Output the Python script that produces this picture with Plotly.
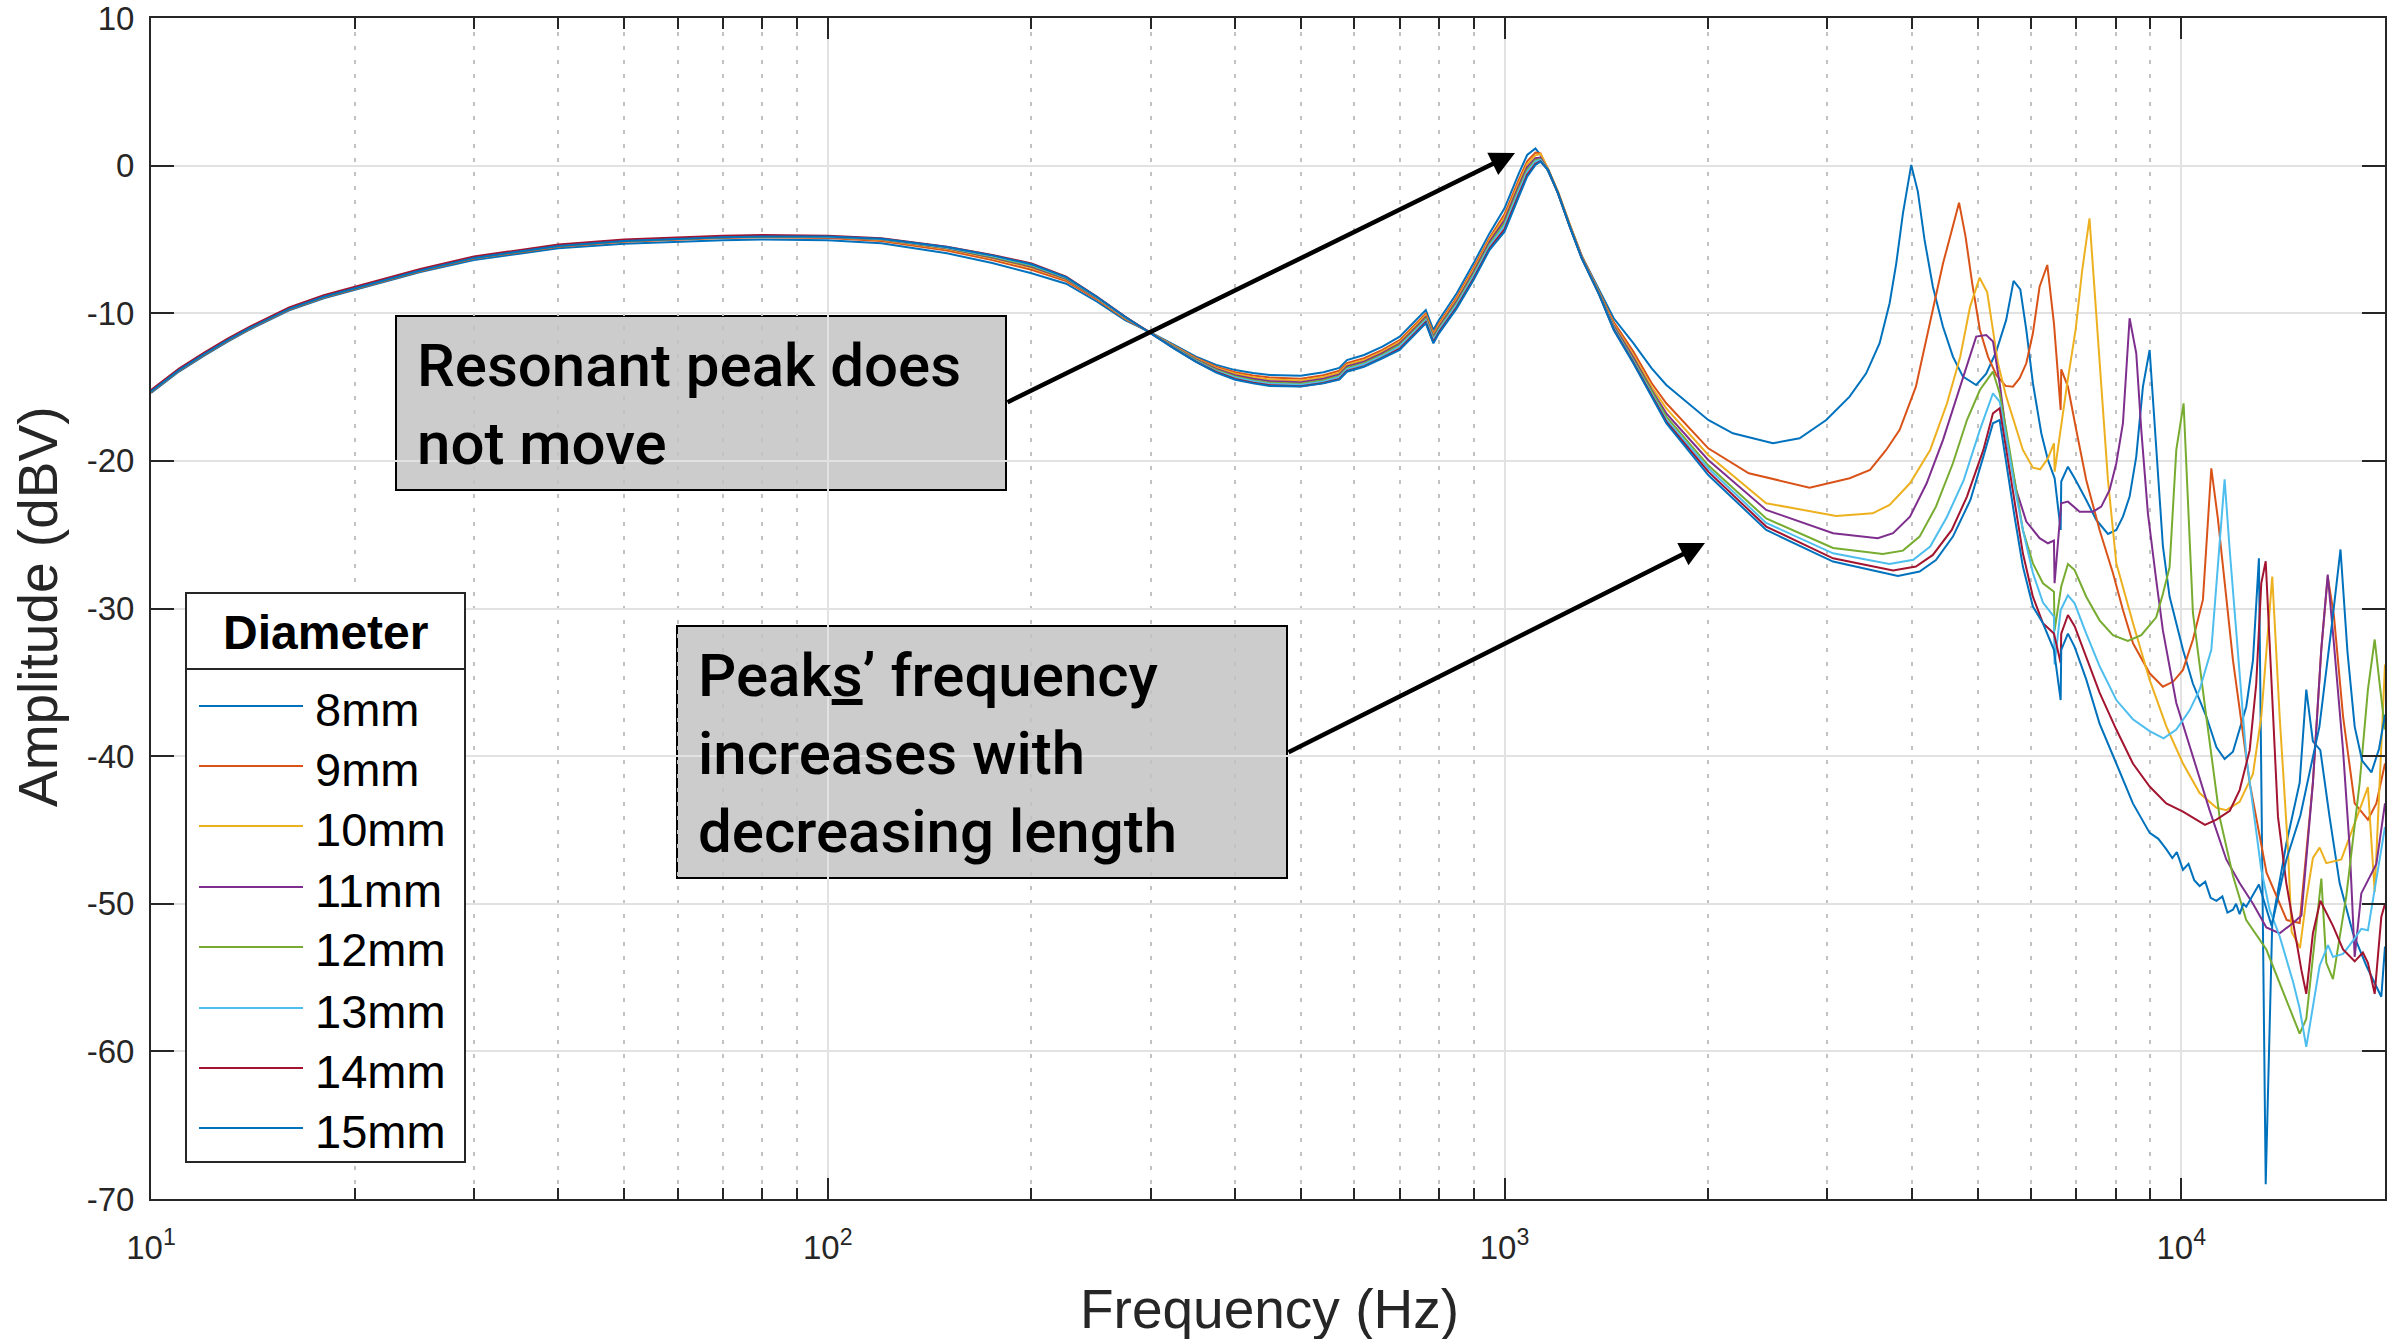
import math
import plotly.graph_objects as go

# ---------------------------------------------------------------------------
# Measured amplitude response of the tube for eight diameters.
# Below ~1.7 kHz all tubes share the same frequency samples.
# ---------------------------------------------------------------------------
freq_low = [10, 11, 12, 13, 14, 16, 18, 20, 25, 30, 40, 50, 60, 70, 80, 100, 120, 150, 175, 200,
            225, 250, 275, 300, 325, 350, 375, 400, 425, 450, 500, 540, 570, 585, 620, 660, 700,
            740, 765, 785, 800, 850, 900, 950, 1000, 1050, 1080, 1111, 1130, 1160, 1200, 1250,
            1300, 1380, 1450, 1550, 1650]

amp_low_8mm = [-15.4, -13.95, -12.85, -11.9, -11.1, -9.8, -8.98, -8.4, -7.2, -6.4,
               -5.6, -5.3, -5.15, -5.05, -5.0, -5.05, -5.26, -5.94, -6.6, -7.29,
               -8.0, -9.22, -10.46, -11.3, -12.15, -12.94, -13.5, -13.85, -14.05, -14.18,
               -14.23, -14.0, -13.7, -13.17, -12.83, -12.26, -11.59, -10.46, -9.78, -11.13,
               -10.46, -8.65, -6.62, -4.59, -2.89, -0.52, 0.72, 1.17, 0.72, -0.4,
               -1.85, -4.1, -6.1, -8.42, -10.34, -12.03, -13.73]
amp_low_9mm = [-15.35, -13.9, -12.8, -11.85, -11.05, -9.75, -8.93, -8.35, -7.15, -6.3,
               -5.5, -5.15, -5.0, -4.9, -4.85, -4.9, -5.1, -5.75, -6.4, -7.05,
               -7.82, -9.08, -10.38, -11.32, -12.2, -13.02, -13.62, -14.0, -14.22, -14.36,
               -14.43, -14.2, -13.9, -13.38, -13.05, -12.48, -11.82, -10.7, -10.02, -11.36,
               -10.7, -8.92, -6.92, -4.9, -3.3, -0.95, 0.3, 0.88, 0.82, -0.25,
               -1.8, -4.05, -6.1, -8.55, -10.6, -12.6, -14.74]
amp_low_10mm = [-15.3, -13.85, -12.75, -11.8, -11.0, -9.7, -8.88, -8.3, -7.1, -6.25,
                -5.45, -5.1, -4.95, -4.85, -4.8, -4.85, -5.02, -5.65, -6.28, -6.92,
                -7.72, -9.0, -10.33, -11.33, -12.24, -13.08, -13.7, -14.1, -14.33, -14.48,
                -14.55, -14.32, -14.02, -13.5, -13.17, -12.6, -11.94, -10.82, -10.14, -11.48,
                -10.82, -9.05, -7.06, -5.04, -3.5, -1.15, 0.1, 0.7, 0.79, -0.2,
                -1.8, -4.05, -6.12, -8.6, -10.75, -12.85, -15.0]
amp_low_11mm = [-15.3, -13.85, -12.75, -11.8, -11.0, -9.7, -8.88, -8.3, -7.1, -6.25,
                -5.45, -5.1, -4.95, -4.85, -4.8, -4.85, -4.99, -5.6, -6.22, -6.85,
                -7.67, -8.97, -10.3, -11.35, -12.28, -13.13, -13.77, -14.2, -14.44, -14.6,
                -14.67, -14.44, -14.14, -13.6, -13.28, -12.7, -12.05, -10.94, -10.26, -11.6,
                -10.94, -9.18, -7.2, -5.18, -3.7, -1.35, -0.1, 0.5, 0.55, -0.3,
                -1.87, -4.13, -6.16, -8.65, -10.85, -13.0, -15.2]
amp_low_12mm = [-15.3, -13.85, -12.75, -11.8, -11.0, -9.7, -8.88, -8.3, -7.1, -6.25,
                -5.45, -5.1, -4.95, -4.85, -4.8, -4.82, -4.97, -5.57, -6.17, -6.78,
                -7.62, -8.94, -10.28, -11.36, -12.31, -13.18, -13.84, -14.28, -14.53, -14.7,
                -14.77, -14.54, -14.24, -13.7, -13.38, -12.8, -12.15, -11.04, -10.36, -11.7,
                -11.04, -9.3, -7.34, -5.32, -3.9, -1.55, -0.28, 0.38, 0.43, -0.3,
                -1.87, -4.15, -6.2, -8.68, -10.95, -13.15, -15.35]
amp_low_13mm = [-15.25, -13.8, -12.7, -11.75, -10.95, -9.65, -8.83, -8.25, -7.05, -6.2,
                -5.4, -5.05, -4.9, -4.8, -4.75, -4.8, -4.95, -5.55, -6.12, -6.72,
                -7.58, -8.92, -10.26, -11.37, -12.34, -13.22, -13.9, -14.35, -14.6, -14.78,
                -14.85, -14.62, -14.32, -13.78, -13.46, -12.88, -12.24, -11.13, -10.46, -11.8,
                -11.13, -9.4, -7.46, -5.44, -4.05, -1.7, -0.42, 0.28, 0.38, -0.3,
                -1.9, -4.17, -6.22, -8.7, -11.0, -13.25, -15.48]
amp_low_14mm = [-15.2, -13.75, -12.65, -11.7, -10.9, -9.6, -8.78, -8.2, -7.0, -6.15,
                -5.35, -5.0, -4.85, -4.75, -4.7, -4.75, -4.92, -5.49, -6.05, -6.62,
                -7.52, -8.88, -10.23, -11.38, -12.38, -13.27, -13.98, -14.45, -14.7, -14.88,
                -14.95, -14.72, -14.45, -13.9, -13.58, -13.0, -12.4, -11.28, -10.6, -11.96,
                -11.28, -9.58, -7.65, -5.62, -4.3, -1.95, -0.62, 0.12, 0.3, -0.3,
                -1.9, -4.2, -6.25, -8.74, -11.08, -13.33, -15.58]
amp_low_15mm = [-15.3, -13.85, -12.75, -11.8, -11.0, -9.7, -8.88, -8.3, -7.1, -6.25,
                -5.45, -5.1, -4.95, -4.85, -4.8, -4.8, -4.95, -5.52, -6.08, -6.68,
                -7.55, -8.9, -10.24, -11.38, -12.4, -13.3, -14.02, -14.5, -14.75, -14.92,
                -14.97, -14.75, -14.5, -13.96, -13.62, -13.05, -12.49, -11.36, -10.68, -12.04,
                -11.36, -9.67, -7.75, -5.72, -4.47, -2.1, -0.75, 0.05, 0.27, -0.3,
                -1.9, -4.2, -6.28, -8.76, -11.13, -13.39, -15.65]

# Above ~1.7 kHz each tube has its own resonances.
freq_high_8mm = [1734, 2000, 2175, 2492, 2729, 2988, 3235, 3423, 3583, 3707, 3792, 3879, 3990, 4081,
                 4175, 4295, 4444, 4598, 4757, 4977, 5150, 5328, 5512, 5652, 5783, 5902, 6036, 6211,
                 6353, 6500, 6634, 6647, 6800, 6957, 7237, 7488, 7792, 8017, 8200, 8388, 8580, 8777,
                 8979, 9183, 9395, 9610, 10058, 10405, 10887, 11272, 11589, 11922, 12474, 12763,
                 13023, 13328, 13628, 14300, 14960, 15300, 15650, 16050, 16560, 17140, 17935,
                 18770, 19750, 20000]
amp_high_8mm = [-14.86, -17.23, -18.13, -18.81, -18.47, -17.23, -15.65, -14.07, -12.03, -9.32,
                -6.62, -3.23, 0.05, -1.76, -5.03, -8.2, -10.9, -12.94, -14.29, -14.86,
                -14.1, -12.6, -10.45, -7.81, -8.38, -11.13, -14.74, -18.13, -19.94, -21.18,
                -24.68, -21.4, -20.39, -21.18, -22.65, -24.0, -24.95, -24.68, -23.78, -22.42,
                -19.71, -14.97, -12.49, -19.03, -25.8, -29.19, -32.8, -35.1, -37.3, -39.4,
                -40.2, -39.7, -36.65, -33.5, -26.6, -69.0, -51.3, -45.9, -41.8, -35.5,
                -39.0, -39.6, -44.1, -48.6, -52.0, -54.2, -56.3, -52.9]

freq_high_9mm = [1734, 2000, 2296, 2823, 3236, 3468, 3664, 3836, 4054, 4256, 4446, 4582, 4695, 4800,
                 4910, 5040, 5180, 5329, 5501, 5640, 5770, 5902, 6036, 6175, 6339, 6484, 6634, 6647,
                 6800, 6995, 7237, 7573, 7925, 8200, 8486, 8980, 9395, 9730, 10058, 10405, 10765,
                 11076, 11325, 11922, 12620, 13366, 14310, 14960, 15650, 16100, 16459, 16810,
                 17340, 18040, 18870, 19420, 20000]
amp_high_9mm = [-16.1, -19.15, -20.84, -21.81, -21.18, -20.61, -19.26, -17.9, -14.97, -10.68,
                -6.62, -4.36, -2.51, -4.81, -7.97, -11.13, -12.94, -14.18, -14.92, -14.97,
                -14.4, -13.39, -11.36, -8.2, -6.73, -10.68, -16.55, -13.8, -14.97, -17.9,
                -21.29, -24.68, -27.6, -30.1, -32.36, -34.39, -35.3, -34.95, -34.16, -32.1,
                -29.4, -20.5, -23.9, -33.5, -41.8, -47.9, -51.1, -51.3, -41.8, -32.8,
                -27.84, -30.5, -37.3, -43.2, -44.3, -43.2, -40.5]

freq_high_10mm = [1734, 2000, 2436, 3091, 3500, 3707, 3973, 4256, 4507, 4714, 4875, 5035, 5167, 5262,
                  5360, 5513, 5671, 5834, 6036, 6188, 6353, 6484, 6500, 6784, 6980, 7139, 7318, 7470,
                  7644, 7792, 8017, 8486, 8980, 9507, 10058, 10644, 11272, 11655, 12196, 12763,
                  13130, 13428, 13628, 13975, 14377, 14555, 14975, 15300, 15650, 16013, 16381,
                  17240, 17940, 18870, 19310, 20000]
amp_high_10mm = [-16.44, -19.6, -22.87, -23.73, -23.55, -22.98, -21.52, -19.26, -16.1, -12.94,
                 -9.55, -7.59, -8.58, -11.13, -13.39, -15.65, -17.45, -19.26, -20.46, -20.57,
                 -19.82, -18.81, -20.73, -14.74, -11.13, -7.07, -3.57, -9.32, -15.65, -21.29,
                 -26.94, -31.0, -34.84, -38.0, -40.5, -42.5, -43.5, -43.66, -43.1, -41.2,
                 -37.3, -31.7, -27.84, -37.3, -46.3, -51.9, -53.0, -49.7, -46.9, -46.2,
                 -47.25, -47.0, -44.9, -42.1, -49.2, -33.8]

freq_high_11mm = [1734, 2000, 2436, 3058, 3561, 3751, 3973, 4205, 4446, 4660, 4823, 4977, 5150, 5270,
                  5390, 5544, 5704, 5902, 6176, 6353, 6484, 6498, 6647, 6800, 7075, 7404, 7617, 7836,
                  8017, 8200, 8388, 8580, 8727, 8927, 9183, 9395, 9832, 10405, 11010, 11655, 12196,
                  12763, 13358, 13975, 14630, 15050, 15650, 16100, 16459, 16810, 17340, 17740,
                  18040, 18450, 18870, 19420, 20000]
amp_high_11mm = [-16.78, -19.94, -23.32, -24.9, -25.24, -24.9, -23.78, -21.52, -18.58, -15.65,
                 -13.39, -11.58, -11.47, -11.92, -14.74, -19.03, -21.97, -24.11, -25.24, -25.58,
                 -25.4, -28.29, -22.87, -22.76, -23.44, -23.44, -23.1, -21.97, -20.16, -17.45,
                 -10.34, -12.71, -17.9, -23.55, -28.07, -31.5, -36.4, -40.0, -43.66, -47.0,
                 -48.6, -50.0, -51.6, -52.0, -51.3, -50.8, -41.8, -32.8, -27.7, -32.4,
                 -39.6, -46.3, -53.6, -49.3, -48.4, -47.3, -43.2]

freq_high_12mm = [1734, 2000, 2436, 3058, 3622, 3879, 4105, 4340, 4598, 4823, 5040, 5269, 5390, 5513,
                  5671, 5834, 6036, 6246, 6484, 6498, 6647, 6800, 6957, 7237, 7573, 7925, 8337, 8727,
                  9183, 9395, 9610, 9832, 10079, 10228, 10405, 10887, 11390, 11922, 12474, 13358,
                  14140, 14630, 14960, 15300, 16105, 16380, 16754, 17530, 18350, 18870, 19310,
                  19640, 20000]
amp_high_12mm = [-17.0, -20.3, -23.9, -25.9, -26.3, -26.08, -25.13, -23.1, -20.16, -17.23,
                 -15.2, -13.95, -15.42, -17.9, -21.29, -24.68, -26.94, -28.29, -28.86, -31.5,
                 -28.5, -26.99, -27.4, -29.2, -30.8, -31.8, -32.2, -31.8, -30.6, -29.0,
                 -27.2, -19.26, -16.1, -22.42, -30.3, -37.3, -44.1, -48.1, -51.1, -53.1,
                 -56.0, -57.6, -58.8, -57.8, -48.3, -54.0, -55.1, -49.5, -41.8, -35.5,
                 -32.1, -35.1, -38.2]

freq_high_13mm = [1734, 2000, 2436, 3058, 3705, 4018, 4256, 4507, 4770, 5040, 5269, 5390, 5513, 5671,
                  5834, 6036, 6246, 6484, 6498, 6634, 6800, 6957, 7237, 7573, 8017, 8482, 8980, 9417,
                  9832, 10287, 10644, 11076, 11390, 11589, 11790, 12474, 13130, 13506, 13975, 14630,
                  14960, 15300, 16013, 16474, 16754, 17340, 17940, 18450, 18870, 20000]
amp_high_13mm = [-17.2, -20.5, -24.2, -26.26, -26.98, -26.7, -25.8, -23.78, -21.3, -17.9,
                 -15.42, -15.99, -18.36, -21.74, -24.68, -27.6, -29.6, -30.55, -33.8, -30.1,
                 -29.1, -29.65, -31.7, -33.9, -36.2, -37.5, -38.3, -38.8, -38.2, -36.9,
                 -35.5, -32.8, -26.0, -21.25, -26.0, -40.0, -47.7, -50.4, -52.2, -55.3,
                 -57.1, -59.7, -54.2, -52.8, -53.6, -53.4, -52.5, -51.7, -51.8, -44.8]

freq_high_14mm = [1734, 2000, 2436, 3058, 3751, 4054, 4295, 4580, 4823, 5100, 5269, 5390, 5513, 5671,
                  5834, 6036, 6246, 6484, 6634, 6647, 6800, 6957, 7237, 7573, 8017, 8482, 8980, 9502,
                  10058, 10644, 10840, 11272, 11795, 12196, 12620, 12906, 13128, 13328, 13585, 13895,
                  14295, 14705, 15050, 15300, 15650, 16050, 16754, 17340, 18040, 18550, 18870,
                  19310, 19750, 20000]
amp_high_14mm = [-17.34, -20.73, -24.45, -26.6, -27.43, -27.16, -26.37, -24.68, -22.42, -19.26,
                 -16.78, -16.44, -19.26, -22.87, -26.26, -29.2, -31.0, -31.7, -33.7, -31.7,
                 -30.44, -31.2, -33.3, -35.7, -38.2, -40.5, -42.06, -43.2, -43.76, -44.4,
                 -44.66, -44.3, -43.7, -42.3, -39.6, -35.1, -28.3, -26.8, -35.1, -44.1,
                 -48.6, -52.0, -54.5, -56.1, -52.0, -49.8, -51.5, -53.1, -53.9, -53.3,
                 -54.0, -56.1, -50.9, -50.0]

freq_high_15mm = [1734, 2000, 2436, 3058, 3813, 4105, 4340, 4598, 4880, 5100, 5269, 5390, 5513, 5671,
                  5834, 6036, 6246, 6484, 6634, 6647, 6800, 6957, 7237, 7573, 8017, 8482, 8980, 9250,
                  9502, 9700, 9850, 10058, 10250, 10450, 10644, 10850, 11050, 11272, 11500, 11700,
                  11922, 12050, 12196, 12350, 12474, 13023, 13600, 14300, 15000, 16000, 16700,
                  17190, 17600, 18040, 18500, 19100, 19600, 20000]
amp_high_15mm = [-17.45, -20.96, -24.68, -26.82, -27.8, -27.5, -26.72, -25.13, -22.65, -19.71,
                 -17.45, -17.23, -20.16, -23.78, -27.16, -29.87, -31.0, -32.8, -36.2, -32.8,
                 -31.7, -32.6, -34.8, -37.8, -40.5, -43.2, -45.2, -45.6, -46.3, -46.9,
                 -46.5, -47.7, -47.3, -48.4, -48.8, -48.5, -49.6, -49.8, -49.5, -50.6,
                 -50.4, -50.0, -50.7, -50.0, -50.2, -48.7, -51.5, -47.0, -44.0, -38.0,
                 -31.0, -26.0, -32.9, -38.0, -40.3, -41.1, -39.5, -37.2]

diameters = ["8mm", "9mm", "10mm", "11mm", "12mm", "13mm", "14mm", "15mm"]
line_colors = ["#0072BD", "#D95319", "#EDB120", "#7E2F8E", "#77AC30", "#4DBEEE", "#A2142F", "#0072BD"]

x_tick_vals = [10, 100, 1000, 10000]
x_tick_text = ["10<sup>1</sup>", "10<sup>2</sup>", "10<sup>3</sup>", "10<sup>4</sup>"]
y_tick_vals = [-70, -60, -50, -40, -30, -20, -10, 0, 10]

series = [
    (freq_low + freq_high_8mm, amp_low_8mm + amp_high_8mm),
    (freq_low + freq_high_9mm, amp_low_9mm + amp_high_9mm),
    (freq_low + freq_high_10mm, amp_low_10mm + amp_high_10mm),
    (freq_low + freq_high_11mm, amp_low_11mm + amp_high_11mm),
    (freq_low + freq_high_12mm, amp_low_12mm + amp_high_12mm),
    (freq_low + freq_high_13mm, amp_low_13mm + amp_high_13mm),
    (freq_low + freq_high_14mm, amp_low_14mm + amp_high_14mm),
    (freq_low + freq_high_15mm, amp_low_15mm + amp_high_15mm),
]

# ---------------------------------------------------------------------------
# Page geometry (pixels)
# ---------------------------------------------------------------------------
W, H = 2407, 1339
ML, MR, MT, MB = 151, 22, 18, 140
PW, PH = W - ML - MR, H - MT - MB


def px(x):
    """page x pixel -> paper fraction"""
    return (x - ML) / PW


def py(y):
    """page y pixel (from top) -> paper fraction"""
    return (H - MB - y) / PH


AXIS_COLOR = "#262626"
SANS = "Liberation Sans, Arial, Helvetica, sans-serif"
TICK_FONT = dict(family=SANS, size=33, color=AXIS_COLOR)
NOTE_FONT = dict(family="Roboto, sans-serif", size=60, color="black", weight=500)

fig = go.Figure()
for (f, a), name, col in zip(series, diameters, line_colors):
    fig.add_trace(go.Scatter(x=f, y=a, mode="lines", name=name,
                             line=dict(color=col, width=2), showlegend=False))

minor_vals = [k * 10 ** e for e in range(1, 5) for k in range(2, 10) if k * 10 ** e <= 20000]

fig.update_xaxes(
    type="log", range=[1, math.log10(20000)], automargin=False,
    tickvals=x_tick_vals, ticktext=x_tick_text, ticklabeloverflow="allow",
    ticks="inside", ticklen=21, tickwidth=1.5, tickcolor=AXIS_COLOR,
    showline=True, linecolor=AXIS_COLOR, linewidth=2, mirror="ticks",
    showgrid=True, gridcolor="#e2e2e2", gridwidth=2, zeroline=False,
    tickfont=TICK_FONT, ticklabelstandoff=18,
    minor=dict(tickvals=minor_vals, ticks="inside", ticklen=11, tickwidth=1.5,
               tickcolor=AXIS_COLOR, showgrid=True, gridcolor="#c2c2c2",
               griddash="4px,10px", gridwidth=1.5),
)
fig.update_yaxes(
    range=[-70, 10], automargin=False, ticklabeloverflow="allow",
    tickvals=y_tick_vals, ticktext=[str(v) for v in y_tick_vals],
    ticks="inside", ticklen=23, tickwidth=1.5, tickcolor=AXIS_COLOR,
    showline=True, linecolor=AXIS_COLOR, linewidth=2, mirror="ticks",
    showgrid=True, gridcolor="#e2e2e2", gridwidth=2, zeroline=False,
    tickfont=TICK_FONT, ticklabelstandoff=8,
)

shapes = []
annotations = []

# axis titles
annotations.append(dict(text="Frequency (Hz)", x=px(1270), y=py(1309), xref="paper", yref="paper",
                        xanchor="center", yanchor="middle", showarrow=False,
                        font=dict(family=SANS, size=55, color=AXIS_COLOR)))
annotations.append(dict(text="Amplitude (dBV)", x=px(38), y=py(607), xref="paper", yref="paper",
                        xanchor="center", yanchor="middle", showarrow=False, textangle=-90,
                        font=dict(family=SANS, size=55, color=AXIS_COLOR)))

# callout boxes
for (x0, y0, x1, y1) in [(396, 316, 1006, 490), (677, 626, 1287, 878)]:
    shapes.append(dict(type="rect", xref="paper", yref="paper",
                       x0=px(x0), x1=px(x1), y0=py(y1), y1=py(y0),
                       fillcolor="#cccccc", line=dict(color="black", width=2), layer="below"))

annotations.append(dict(text="Resonant peak does<br>not move", x=px(415), y=py(404),
                        xref="paper", yref="paper", xanchor="left", yanchor="middle",
                        align="left", showarrow=False, font=NOTE_FONT))
annotations.append(dict(text="Peak<u>s</u>’ frequency<br>increases with<br>decreasing length",
                        x=px(696), y=py(753), xref="paper", yref="paper", xanchor="left",
                        yanchor="middle", align="left", showarrow=False, font=NOTE_FONT))

# arrows from the callouts
for (hx, hy, tx, ty) in [(1515, 153, 1006, 403), (1705, 543, 1287, 753)]:
    annotations.append(dict(text="", x=px(hx), y=py(hy), xref="paper", yref="paper",
                            ax=tx - hx, ay=ty - hy, axref="pixel", ayref="pixel",
                            showarrow=True, arrowhead=2, arrowsize=1.1, arrowwidth=4.5,
                            arrowcolor="black", standoff=0))

# legend box
LX0, LX1, LY0, LY1 = 186, 465, 593, 1162
shapes.append(dict(type="rect", xref="paper", yref="paper", x0=px(LX0), x1=px(LX1),
                   y0=py(LY1), y1=py(LY0), fillcolor="white",
                   line=dict(color=AXIS_COLOR, width=2), layer="above"))
shapes.append(dict(type="line", xref="paper", yref="paper", x0=px(LX0), x1=px(LX1),
                   y0=py(669), y1=py(669), line=dict(color=AXIS_COLOR, width=2), layer="above"))
annotations.append(dict(text="<b>Diameter</b>", x=px(325), y=py(632), xref="paper", yref="paper",
                        xanchor="center", yanchor="middle", showarrow=False,
                        font=dict(family=SANS, size=48, color="black")))
entry_rows = [709, 769, 829, 890, 950, 1011, 1071, 1131]
for row, name, col in zip(entry_rows, diameters, line_colors):
    shapes.append(dict(type="line", xref="paper", yref="paper", x0=px(199), x1=px(303),
                       y0=py(row - 3), y1=py(row - 3), line=dict(color=col, width=2),
                       layer="above"))
    annotations.append(dict(text=name, x=px(313), y=py(row), xref="paper", yref="paper",
                            xanchor="left", yanchor="middle", showarrow=False,
                            font=dict(family=SANS, size=47, color="black")))

fig.update_layout(
    width=W, height=H, autosize=False,
    margin=dict(l=ML, r=MR, t=MT, b=MB, pad=0),
    paper_bgcolor="white", plot_bgcolor="white",
    showlegend=False, shapes=shapes, annotations=annotations,
)

fig.write_html("out.html")
